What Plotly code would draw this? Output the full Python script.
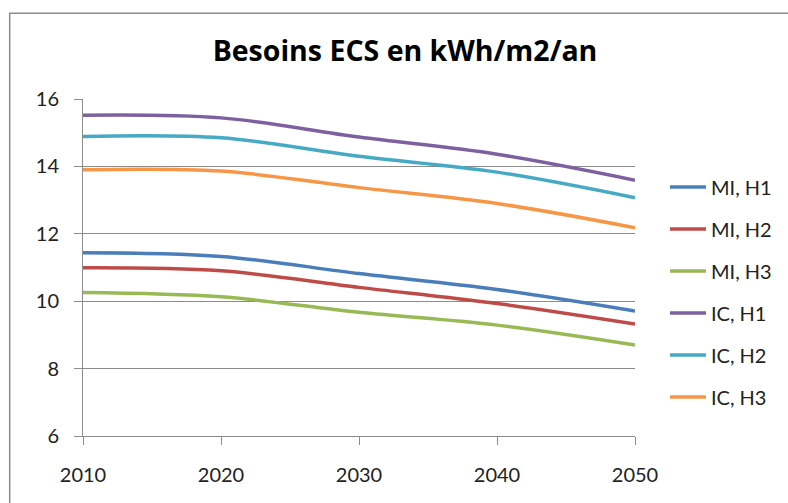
import plotly.graph_objects as go

years = [2010, 2020, 2030, 2040, 2050]
mi_h1 = [11.44, 11.33, 10.82, 10.35, 9.71]
mi_h2 = [10.99, 10.90, 10.41, 9.93, 9.32]
mi_h3 = [10.26, 10.13, 9.67, 9.29, 8.70]
ic_h1 = [15.52, 15.44, 14.87, 14.36, 13.59]
ic_h2 = [14.89, 14.85, 14.30, 13.83, 13.07]
ic_h3 = [13.90, 13.86, 13.37, 12.90, 12.18]

series_names = ["MI, H1", "MI, H2", "MI, H3", "IC, H1", "IC, H2", "IC, H3"]
series_values = [mi_h1, mi_h2, mi_h3, ic_h1, ic_h2, ic_h3]
colors = ["#4A7EBB", "#BE4B48", "#98B954", "#7D60A0", "#46AAC5", "#F79646"]

x_ticks = [2010, 2020, 2030, 2040, 2050]
y_ticks = [6, 8, 10, 12, 14, 16]

fig = go.Figure()
for i, (name, vals, col) in enumerate(zip(series_names, series_values, colors)):
    fig.add_trace(go.Scatter(
        x=years, y=vals, name=name, mode="lines",
        line=dict(color=col, width=3.5, shape="spline", smoothing=1.0),
        legendgroup=f"g{i}",
    ))

grid_col = "#8C8C8C"
fig.update_layout(
    width=788, height=503,
    margin=dict(l=82.5, r=152, t=98.5, b=67, pad=0),
    paper_bgcolor="white", plot_bgcolor="white",
    font=dict(family="Lato", color="#222222"),
    title=dict(text="Besoins ECS en kWh/m2/an", x=405/788, xanchor="center",
               y=1 - 51/503, yanchor="middle",
               font=dict(family="Open Sans", size=28.5, weight=700, color="#000000")),
    showlegend=True,
    legend=dict(x=(665 - 82.5) / 553.5, xanchor="left", y=(436 - 167) / 337.5, yanchor="top",
                font=dict(family="Lato", size=20, color="#222222"),
                tracegroupgap=13, itemwidth=36, bgcolor="rgba(0,0,0,0)", borderwidth=0),
    xaxis=dict(range=[2010, 2050], tickvals=x_ticks, ticktext=[str(v) for v in x_ticks],
               showgrid=False, zeroline=False, showline=True, linecolor=grid_col, linewidth=1,
               ticks="outside", ticklen=8, tickcolor=grid_col, tickwidth=1,
               tickfont=dict(family="Lato", size=20, color="#222222"), ticklabelstandoff=13),
    yaxis=dict(range=[6, 16], tickvals=y_ticks, showgrid=True, gridcolor=grid_col, gridwidth=1,
               zeroline=False, showline=True, linecolor=grid_col, linewidth=1,
               ticks="outside", ticklen=8, tickcolor=grid_col, tickwidth=1,
               tickfont=dict(family="Lato", size=20, color="#222222"), ticklabelstandoff=11),
    shapes=[dict(type="rect", xref="paper", yref="paper",
                 x0=(9 - 82.5) / 553.5, x1=(800 - 82.5) / 553.5,
                 y0=(436 - 520) / 337.5, y1=(436 - 12.5) / 337.5,
                 line=dict(color="#8C8C8C", width=1.5), fillcolor="rgba(0,0,0,0)", layer="below")],
)

fig.write_html("out.html", config={"displayModeBar": False},
               post_script="document.body.style.margin='0';")
